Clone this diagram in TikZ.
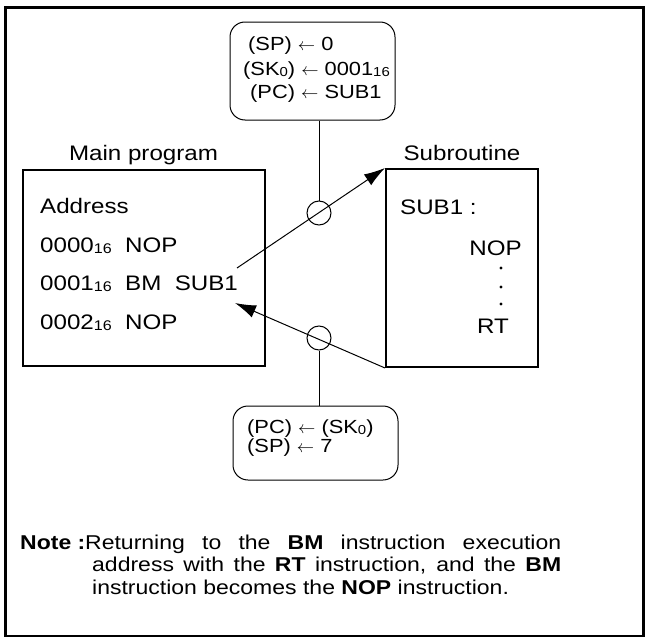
\documentclass[tikz,border=0pt]{standalone}
\usepackage{fontspec}
\setmainfont{Liberation Sans}[FakeStretch=1.15]
\usetikzlibrary{arrows.meta}
\newcommand\hsub[1]{\raisebox{-1.5pt}{\fontsize{14}{14}\selectfont #1}}
\newcommand\bsub[1]{\raisebox{-1.5pt}{\fontsize{13}{13}\selectfont #1}}
\begin{document}
\begin{tikzpicture}[x=1pt,y=-1pt,
 txt/.style={inner sep=0pt, anchor=base west, font=\fontsize{21}{25}\selectfont},
 btxt/.style={inner sep=0pt, anchor=base west, font=\fontsize{19}{22}\selectfont},
 prog/.style={draw, line width=2pt, inner sep=0pt},
 reg/.style={draw, line width=1pt, rounded corners=15pt, inner sep=0pt},
 ring/.style={draw, circle, line width=1pt, minimum size=24pt, inner sep=0pt},
 dotmark/.style={circle, fill, inner sep=0pt, minimum size=3.2pt},
 flow/.style={line width=1pt, -{Latex[length=21pt,width=13pt]}}]
\useasboundingbox (0,0) rectangle (646,637);
\node[draw, line width=2.5pt, inner sep=0pt, minimum width=638pt, minimum height=629pt, anchor=north west] (frame) at (4,6) {};
% boxes
\node[prog, minimum width=242pt, minimum height=196pt] (main) at (144,268) {};
\node[prog, minimum width=152pt, minimum height=198pt] (sub) at (462,268) {};
\node[reg, minimum width=165pt, minimum height=98pt] (top) at (312.5,71) {};
\node[reg, minimum width=165pt, minimum height=74pt] (bot) at (315.5,443) {};
\node[ring] (c1) at (319,213) {};
\node[ring] (c2) at (319,338) {};
\coordinate (a1) at (237,268);
\coordinate (a2) at (235,303);
% connectors
\draw[line width=1pt] (top.south -| c1.center) -- (c1.north);
\draw[line width=1pt] (c2.south) -- (bot.north -| c2.center);
\draw[flow] (a1) -- (sub.north west);
\draw[flow] (sub.south west) -- (a2);
% top box text
\node[btxt] (t1) at (248,50) {(SP) $\leftarrow$ 0};
\node[btxt] (t2) at (243,75) {(SK\bsub{0}) $\leftarrow$ 0001\bsub{16}};
\node[btxt] (t3) at (250,98) {(PC) $\leftarrow$ SUB1};
% bottom box text
\node[btxt] (b1) at (247,433) {(PC) $\leftarrow$ (SK\bsub{0})};
\node[btxt] (b2) at (247,452) {(SP) $\leftarrow$ 7};
% labels
\node[txt, anchor=base] (mlabel) at (143.5,160) {Main program};
\node[txt, anchor=base] (slabel) at (462,160) {Subroutine};
% main program
\node[txt] (addr) at (40,213) {Address};
\node[txt] (addr0) at (40,252) {0000\hsub{16}};
\node[txt] (ins0) at (125,252) {NOP};
\node[txt] (addr1) at (40,290) {0001\hsub{16}};
\node[txt] (ins1) at (125,290) {BM\ \ SUB1};
\node[txt] (addr2) at (40,329) {0002\hsub{16}};
\node[txt] (ins2) at (125,329) {NOP};
% subroutine
\node[txt] (s0) at (400,214) {SUB1 :};
\node[txt, anchor=base east] (s1) at (522,255) {NOP};
\node[dotmark] (d1) at (501,268) {};
\node[dotmark] (d2) at (501,287) {};
\node[dotmark] (d3) at (501,304) {};
\node[txt] (s2) at (477,333) {RT};
% note
\node[txt, font=\fontsize{20}{22}\selectfont\bfseries] (notehead) at (20,549) {Note :};
\node[txt] (notebody) at (85,549) {\parbox[t]{476pt}{\fontsize{20}{22.5}\selectfont\hangindent=7pt\hangafter=1\noindent Returning to the \textbf{BM} instruction execution\linebreak address with the \textbf{RT} instruction, and the \textbf{BM}\linebreak instruction becomes the \textbf{NOP} instruction.}};
\end{tikzpicture}
\end{document}
